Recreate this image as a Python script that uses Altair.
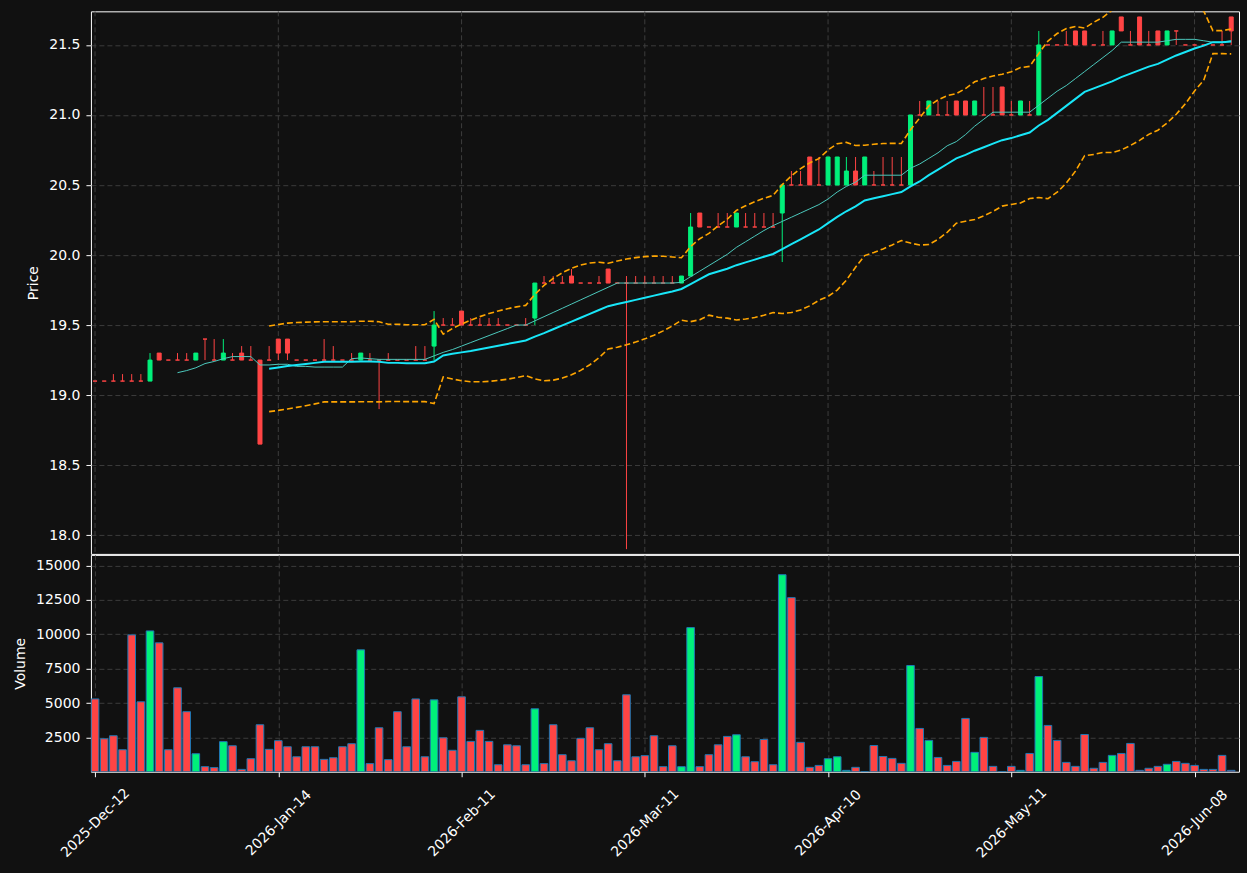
import altair as alt
import pandas as pd

# ---------------- data ----------------
tick_labels = ["2025-Dec-12", "2026-Jan-14", "2026-Feb-11", "2026-Mar-11",
               "2026-Apr-10", "2026-May-11", "2026-Jun-08"]

opens = [19.1, 19.1, 19.1, 19.1, 19.1, 19.1, 19.1, 19.3, 19.25, 19.25,
         19.25, 19.25, 19.4, 19.25, 19.25, 19.25, 19.3, 19.25, 19.25, 19.25,
         19.4, 19.4, 19.25, 19.25, 19.25, 19.25, 19.25, 19.25, 19.25, 19.25,
         19.25, 19.25, 19.25, 19.25, 19.25, 19.25, 19.25, 19.35, 19.5, 19.5,
         19.6, 19.5, 19.5, 19.5, 19.5, 19.5, 19.5, 19.5, 19.55, 19.8,
         19.8, 19.8, 19.85, 19.8, 19.8, 19.8, 19.9, 19.8, 19.8, 19.8,
         19.8, 19.8, 19.8, 19.8, 19.8, 19.85, 20.3, 20.2, 20.2, 20.2,
         20.2, 20.2, 20.2, 20.2, 20.2, 20.3, 20.5, 20.5, 20.7, 20.5,
         20.5, 20.5, 20.5, 20.6, 20.5, 20.5, 20.5, 20.5, 20.5, 20.5,
         21.0, 21.0, 21.0, 21.0, 21.1, 21.1, 21.0, 21.0, 21.0, 21.2,
         21.0, 21.0, 21.0, 21.0, 21.5, 21.5, 21.5, 21.6, 21.6, 21.5,
         21.5, 21.5, 21.7, 21.5, 21.7, 21.5, 21.6, 21.5, 21.6, 21.5,
         21.5, 21.5, 21.5, 21.5, 21.7]
highs = [19.1, 19.1, 19.15, 19.15, 19.15, 19.15, 19.3, 19.3, 19.25, 19.3,
         19.3, 19.3, 19.4, 19.4, 19.4, 19.3, 19.35, 19.35, 19.25, 19.35,
         19.4, 19.4, 19.25, 19.25, 19.25, 19.4, 19.35, 19.25, 19.3, 19.3,
         19.3, 19.25, 19.3, 19.25, 19.25, 19.35, 19.35, 19.6, 19.55, 19.55,
         19.6, 19.55, 19.55, 19.55, 19.55, 19.5, 19.5, 19.55, 19.8, 19.85,
         19.85, 19.85, 19.9, 19.8, 19.8, 19.85, 19.9, 19.8, 19.85, 19.85,
         19.85, 19.85, 19.85, 19.85, 19.85, 20.3, 20.3, 20.2, 20.3, 20.3,
         20.3, 20.3, 20.3, 20.3, 20.3, 20.5, 20.6, 20.6, 20.7, 20.7,
         20.7, 20.7, 20.7, 20.7, 20.7, 20.6, 20.7, 20.7, 20.7, 21.0,
         21.1, 21.1, 21.1, 21.1, 21.1, 21.1, 21.1, 21.2, 21.2, 21.2,
         21.1, 21.1, 21.1, 21.6, 21.5, 21.5, 21.6, 21.6, 21.6, 21.5,
         21.6, 21.6, 21.7, 21.6, 21.7, 21.6, 21.6, 21.6, 21.6, 21.5,
         21.5, 21.5, 21.5, 21.6, 21.7]
lows = [19.1, 19.1, 19.1, 19.1, 19.1, 19.1, 19.1, 19.25, 19.25, 19.25,
        19.25, 19.25, 19.25, 19.25, 19.25, 19.25, 19.25, 19.25, 18.65, 19.25,
        19.25, 19.25, 19.25, 19.25, 19.25, 19.25, 19.25, 19.25, 19.25, 19.25,
        19.25, 18.9, 19.25, 19.25, 19.25, 19.25, 19.25, 19.25, 19.5, 19.5,
        19.5, 19.5, 19.5, 19.5, 19.5, 19.5, 19.5, 19.5, 19.5, 19.8,
        19.8, 19.8, 19.8, 19.8, 19.8, 19.8, 19.8, 19.8, 17.9, 19.8,
        19.8, 19.8, 19.8, 19.8, 19.8, 19.85, 20.2, 20.2, 20.2, 20.2,
        20.2, 20.2, 20.2, 20.2, 20.2, 19.95, 20.5, 20.5, 20.5, 20.5,
        20.5, 20.5, 20.5, 20.5, 20.5, 20.5, 20.5, 20.5, 20.5, 20.5,
        21.0, 21.0, 21.0, 21.0, 21.0, 21.0, 21.0, 21.0, 21.0, 21.0,
        21.0, 21.0, 21.0, 21.0, 21.5, 21.5, 21.5, 21.5, 21.5, 21.5,
        21.5, 21.5, 21.6, 21.5, 21.5, 21.5, 21.5, 21.5, 21.5, 21.5,
        21.5, 21.5, 21.5, 21.5, 21.5]
closes = [19.1, 19.1, 19.1, 19.1, 19.1, 19.1, 19.25, 19.25, 19.25, 19.25,
          19.25, 19.3, 19.4, 19.25, 19.3, 19.25, 19.25, 19.25, 18.65, 19.25,
          19.3, 19.3, 19.25, 19.25, 19.25, 19.25, 19.25, 19.25, 19.25, 19.3,
          19.25, 19.25, 19.25, 19.25, 19.25, 19.25, 19.25, 19.5, 19.5, 19.5,
          19.5, 19.5, 19.5, 19.5, 19.5, 19.5, 19.5, 19.5, 19.8, 19.8,
          19.8, 19.8, 19.8, 19.8, 19.8, 19.8, 19.8, 19.8, 19.8, 19.8,
          19.8, 19.8, 19.8, 19.8, 19.85, 20.2, 20.2, 20.2, 20.2, 20.2,
          20.3, 20.2, 20.2, 20.2, 20.2, 20.5, 20.5, 20.5, 20.5, 20.5,
          20.7, 20.7, 20.6, 20.5, 20.7, 20.5, 20.5, 20.5, 20.5, 21.0,
          21.0, 21.1, 21.0, 21.0, 21.0, 21.0, 21.1, 21.0, 21.0, 21.0,
          21.0, 21.1, 21.0, 21.5, 21.5, 21.5, 21.5, 21.5, 21.5, 21.5,
          21.5, 21.6, 21.6, 21.5, 21.5, 21.5, 21.5, 21.6, 21.6, 21.5,
          21.5, 21.5, 21.5, 21.5, 21.6]
volumes = [5300, 2400, 2620, 1600, 9960, 5090, 10250, 9380, 1600, 6110,
           4370, 1310, 370, 300, 2190, 1890, 170, 950, 3420, 1630,
           2260, 1820, 1090, 1820, 1820, 900, 1020, 1820, 2040, 8870,
           590, 3200, 880, 4370, 1820, 5300, 1090, 5230, 2470, 1560,
           5450, 2210, 3010, 2210, 510, 1960, 1890, 510, 4580, 590,
           3420, 1240, 800, 2430, 3200, 1600, 2040, 800, 5600, 1090,
           1170, 2620, 370, 1890, 370, 10490, 370, 1240, 1960, 2570,
           2690, 1090, 730, 2350, 510, 14340, 12670, 2140, 320, 460,
           950, 1090, 100, 320, 0, 1910, 1110, 970, 610, 7730,
           3150, 2280, 1040, 460, 750, 3880, 1410, 2500, 390, 0,
           390, 100, 1330, 6930, 3370, 2280, 680, 390, 2710, 250,
           680, 1190, 1330, 2060, 100, 250, 390, 540, 750, 610,
           460, 170, 170, 1190, 100]

# ---------------- styling ----------------
BG = "#111111"
UP = "#00f07a"
DOWN = "#ff4444"
GRID = "#3c3c3c"
FONT = "DejaVu Sans"

n = len(closes)
df = pd.DataFrame({
    "i": list(range(n)),
    "open": opens, "high": highs, "low": lows, "close": closes,
    "volume": volumes,
})
df["dir"] = ["up" if c > o else "down" for o, c in zip(opens, closes)]

tick_vals = [20 * k for k in range(len(tick_labels))]
grid_df = pd.DataFrame({"i": tick_vals})
label_expr = "[" + ",".join("'%s'" % t for t in tick_labels) + "][round(datum.value / 20)]"

x_scale = alt.Scale(domain=[-0.45, 124.85], nice=False, zero=False, padding=0)
y_scale = alt.Scale(domain=[17.866, 21.74], nice=False, zero=False, padding=0)
col_scale = alt.Scale(domain=["up", "down"], range=[UP, DOWN])

x_price = alt.X("i:Q", scale=x_scale, axis=None)
y_axis = alt.Axis(values=[18.0, 18.5, 19.0, 19.5, 20.0, 20.5, 21.0, 21.5],
                  format=".1f", title="Price", grid=True, domain=False)

base = alt.Chart(df)

# vertical grid lines of the price panel at the date ticks
vgrid = alt.Chart(grid_df).mark_rule(
    color=GRID, strokeWidth=1, strokeDash=[5, 3], clip=True
).encode(x=x_price)

wicks = base.mark_rule(strokeWidth=1, clip=True).encode(
    x=x_price,
    y=alt.Y("low:Q", scale=y_scale, axis=y_axis),
    y2="high:Q",
    color=alt.Color("dir:N", scale=col_scale, legend=None),
)
bodies = base.mark_bar(width=4, strokeWidth=1, clip=True).encode(
    x=x_price,
    y=alt.Y("open:Q", scale=y_scale, axis=y_axis),
    y2="close:Q",
    color=alt.Color("dir:N", scale=col_scale, legend=None),
    stroke=alt.Stroke("dir:N", scale=col_scale, legend=None),
)
ma10 = base.transform_window(
    ma10="mean(close)", frame=[-9, 0], sort=[{"field": "i"}]
).transform_filter("datum.i >= 9").mark_line(
    color="#4cc9bd", strokeWidth=1, clip=True
).encode(x=x_price, y=alt.Y("ma10:Q", scale=y_scale, axis=y_axis))

bb = base.transform_window(
    ma20="mean(close)", sd20="stdev(close)", frame=[-19, 0], sort=[{"field": "i"}]
).transform_filter("datum.i >= 19").transform_calculate(
    upper="datum.ma20 + 2 * datum.sd20",
    lower="datum.ma20 - 2 * datum.sd20",
)
ma20 = bb.mark_line(color="#18e6f8", strokeWidth=2, clip=True).encode(
    x=x_price, y=alt.Y("ma20:Q", scale=y_scale, axis=y_axis))
upper = bb.mark_line(color="#ffa500", strokeWidth=1.6, strokeDash=[6, 3], clip=True).encode(
    x=x_price, y=alt.Y("upper:Q", scale=y_scale, axis=y_axis))
lower = bb.mark_line(color="#ffa500", strokeWidth=1.6, strokeDash=[6, 3], clip=True).encode(
    x=x_price, y=alt.Y("lower:Q", scale=y_scale, axis=y_axis))

price = alt.layer(vgrid, wicks, bodies, ma10, ma20, upper, lower).properties(
    width=1149, height=543)

vol = base.mark_bar(width=7.6, stroke="#1f77b4", strokeWidth=1, clip=True).encode(
    x=alt.X("i:Q", scale=x_scale,
            axis=alt.Axis(values=tick_vals, labelExpr=label_expr, labelAngle=315,
                          labelAlign="center", labelBaseline="middle",
                          labelPadding=46, title=None, grid=True, domain=False,
                          labelOverlap=False, labelFlush=False)),
    y=alt.Y("volume:Q", scale=alt.Scale(domain=[0, 15780], nice=False, padding=0),
            axis=alt.Axis(values=[2500, 5000, 7500, 10000, 12500, 15000],
                          format="d", title="Volume", grid=True, domain=False)),
    color=alt.Color("dir:N", scale=col_scale, legend=None),
).properties(width=1149, height=217)

chart = alt.vconcat(price, vol, spacing=-1).properties(
    background=BG,
    padding={"left": 12, "top": 10, "right": 7, "bottom": 12},
).configure_view(
    stroke="white", strokeWidth=1, fill=BG,
).configure_axis(
    labelColor="white", titleColor="white", tickColor="white",
    labelFont=FONT, titleFont=FONT, labelFontSize=14, titleFontSize=14,
    titleFontWeight="normal", tickSize=5, labelPadding=6, titlePadding=8,
    gridColor=GRID, gridDash=[5, 3], gridWidth=1,
)

chart.save("out.html", embed_options={"renderer": "svg", "actions": False})
